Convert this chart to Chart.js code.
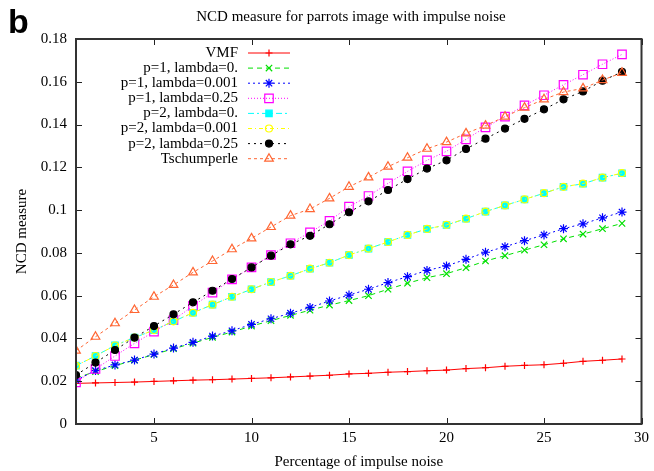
<!DOCTYPE html>
<html>
<head>
<meta charset="utf-8">
<script src="https://cdn.jsdelivr.net/npm/chart.js@4/dist/chart.umd.min.js"></script>
<style>
  html, body { margin: 0; padding: 0; background: #fff; }
  canvas { display: block; }
</style>
</head>
<body>
<canvas id="chartNcd" width="654" height="471"></canvas>
<script>
// percentage of impulse noise
const noiseLevels = [1, 2, 3, 4, 5, 6, 7, 8, 9, 10, 11, 12, 13, 14, 15, 16, 17, 18, 19, 20, 21, 22, 23, 24, 25, 26, 27, 28, 29];

const vmf = [0.0190, 0.0192, 0.0194, 0.0196, 0.0199, 0.0202, 0.0205, 0.0207, 0.0210, 0.0213, 0.0216, 0.0220, 0.0224, 0.0228, 0.0234,
  0.0237, 0.0242, 0.0245, 0.0249, 0.0252, 0.0259, 0.0263, 0.0270, 0.0274, 0.0277, 0.0284, 0.0293, 0.0298, 0.0304];
const p1Lambda0 = [0.0215, 0.0245, 0.0273, 0.0298, 0.0325, 0.0352, 0.0378, 0.0405, 0.0430, 0.0458, 0.0483, 0.0508, 0.0532, 0.0556, 0.0577,
  0.0600, 0.0630, 0.0658, 0.0684, 0.0703, 0.0731, 0.0762, 0.0787, 0.0813, 0.0838, 0.0866, 0.0888, 0.0913, 0.0938];
const p1Lambda001 = [0.0205, 0.0250, 0.0276, 0.0299, 0.0327, 0.0355, 0.0382, 0.0411, 0.0436, 0.0466, 0.0492, 0.0518, 0.0545, 0.0575, 0.0603,
  0.0630, 0.0661, 0.0689, 0.0718, 0.0739, 0.0770, 0.0803, 0.0829, 0.0857, 0.0884, 0.0913, 0.0936, 0.0964, 0.0991];
const p1Lambda025 = [0.0195, 0.0257, 0.0318, 0.0377, 0.0432, 0.0486, 0.0552, 0.0614, 0.0676, 0.0732, 0.0790, 0.0845, 0.0896, 0.0950, 0.1016,
  0.1066, 0.1125, 0.1181, 0.1233, 0.1275, 0.1331, 0.1387, 0.1437, 0.1490, 0.1537, 0.1586, 0.1633, 0.1682, 0.1728];
const p2Lambda0 = [0.0273, 0.0318, 0.0368, 0.0404, 0.0439, 0.0480, 0.0520, 0.0558, 0.0595, 0.0630, 0.0664, 0.0693, 0.0726, 0.0754, 0.0790,
  0.0820, 0.0851, 0.0884, 0.0912, 0.0930, 0.0960, 0.0993, 0.1022, 0.1050, 0.1079, 0.1109, 0.1123, 0.1152, 0.1172];
const p2Lambda001 = [0.0272, 0.0318, 0.0367, 0.0404, 0.0439, 0.0480, 0.0520, 0.0558, 0.0595, 0.0630, 0.0664, 0.0693, 0.0726, 0.0754, 0.0790,
  0.0820, 0.0851, 0.0884, 0.0912, 0.0931, 0.0960, 0.0993, 0.1022, 0.1050, 0.1079, 0.1109, 0.1124, 0.1152, 0.1173];
const p2Lambda025 = [0.0229, 0.0287, 0.0346, 0.0404, 0.0458, 0.0513, 0.0569, 0.0623, 0.0678, 0.0732, 0.0787, 0.0840, 0.0880, 0.0934, 0.0990,
  0.1041, 0.1094, 0.1145, 0.1194, 0.1233, 0.1286, 0.1334, 0.1381, 0.1427, 0.1471, 0.1518, 0.1555, 0.1605, 0.1646];
const tschumperle = [0.0343, 0.0408, 0.0471, 0.0533, 0.0595, 0.0650, 0.0709, 0.0762, 0.0817, 0.0868, 0.0921, 0.0974, 0.1005, 0.1055, 0.1109,
  0.1153, 0.1203, 0.1245, 0.1287, 0.1318, 0.1359, 0.1395, 0.1437, 0.1479, 0.1518, 0.1552, 0.1569, 0.1608, 0.1642];

const xTicks = [5, 10, 15, 20, 25, 30];
const yTicks = [0, 0.02, 0.04, 0.06, 0.08, 0.1, 0.12, 0.14, 0.16, 0.18];

const serif = '"Liberation Serif", "DejaVu Serif", serif';

// nét vẽ kiểu gnuplot
const series = [
  { label: 'VMF', values: vmf, color: '#ff0000', dash: [], style: 'cross', radius: 3.5, fill: false },
  { label: 'p=1, lambda=0.', values: p1Lambda0, color: '#00e000', dash: [5, 4], style: 'crossRot', radius: 4.5, fill: false },
  { label: 'p=1, lambda=0.001', values: p1Lambda001, color: '#0000ff', dash: [2, 3], style: 'star', radius: 4.5, fill: false },
  { label: 'p=1, lambda=0.25', values: p1Lambda025, color: '#ff00ff', dash: [1, 2], style: 'rect', radius: 6, fill: false },
  { label: 'p=2, lambda=0.', values: p2Lambda0, color: '#00ffff', dash: [6, 3, 2, 3], style: 'rect', radius: 4.5, fill: true },
  { label: 'p=2, lambda=0.001', values: p2Lambda001, color: '#ffff00', dash: [4, 3, 1, 3], style: 'circle', radius: 3.5, fill: false },
  { label: 'p=2, lambda=0.25', values: p2Lambda025, color: '#000000', dash: [2, 4], style: 'circle', radius: 3.5, fill: true },
  { label: 'Tschumperle', values: tschumperle, color: '#ff6633', dash: [3, 3], style: 'triangle', radius: 5, fill: false }
];

const datasets = series.map((s, i) => ({
  label: s.label,
  data: noiseLevels.map((x, j) => ({ x: x, y: s.values[j] })),
  borderColor: s.color,
  borderWidth: 1,
  borderDash: s.dash,
  pointStyle: s.style,
  pointRadius: s.radius,
  pointBorderColor: s.color,
  pointBackgroundColor: s.fill ? s.color : 'rgba(0,0,0,0)',
  pointBorderWidth: 1.2,
  fill: false,
  tension: 0,
  order: 10 - i
}));

const framePlugin = {
  id: 'frame',
  afterDraw(chart) {
    const ctx = chart.ctx;
    const a = chart.chartArea;
    const xs = chart.scales.x;
    const ys = chart.scales.y;
    ctx.save();
    // ticks inward on all four sides
    ctx.strokeStyle = '#222';
    ctx.lineWidth = 1;
    ctx.setLineDash([]);
    ctx.beginPath();
    xTicks.forEach(v => {
      const px = Math.round(xs.getPixelForValue(v)) + 0.5;
      ctx.moveTo(px, a.bottom); ctx.lineTo(px, a.bottom - 6);
      ctx.moveTo(px, a.top); ctx.lineTo(px, a.top + 6);
    });
    yTicks.forEach(v => {
      const py = Math.round(ys.getPixelForValue(v)) + 0.5;
      ctx.moveTo(a.left, py); ctx.lineTo(a.left + 6, py);
      ctx.moveTo(a.right, py); ctx.lineTo(a.right - 6, py);
    });
    ctx.stroke();
    ctx.lineWidth = 2;
    ctx.strokeStyle = '#333';
    ctx.strokeRect(a.left, a.top, a.right - a.left, a.bottom - a.top);

    // legend, text right aligned with sample line on the right
    ctx.font = '15px ' + serif;
    ctx.textAlign = 'right';
    ctx.textBaseline = 'middle';
    chart.data.datasets.forEach((ds, i) => {
      const y = a.top + 14 + i * 15.1;
      ctx.fillStyle = '#000';
      ctx.fillText(ds.label, a.left + 162, y);
      ctx.strokeStyle = ds.borderColor;
      ctx.lineWidth = 1;
      ctx.setLineDash(ds.borderDash);
      ctx.beginPath();
      ctx.moveTo(a.left + 172, y);
      ctx.lineTo(a.left + 214, y);
      ctx.stroke();
      ctx.setLineDash([]);
      ctx.fillStyle = ds.pointBackgroundColor;
      ctx.strokeStyle = ds.pointBorderColor;
      ctx.lineWidth = ds.pointBorderWidth;
      Chart.helpers.drawPoint(ctx, {
        pointStyle: ds.pointStyle, rotation: 0, radius: ds.pointRadius, borderWidth: ds.pointBorderWidth
      }, a.left + 193, y);
    });

    // title and panel letter
    ctx.fillStyle = '#000';
    ctx.textAlign = 'center';
    ctx.font = '15px ' + serif;
    ctx.fillText('NCD measure for parrots image with impulse noise', 351, 17);
    ctx.textAlign = 'left';
    ctx.textBaseline = 'alphabetic';
    ctx.font = 'bold 34px "Liberation Sans", Arial, sans-serif';
    ctx.fillText('b', 8, 33);
    ctx.restore();
  }
};

new Chart(document.getElementById('chartNcd').getContext('2d'), {
  type: 'line',
  data: { datasets: datasets },
  options: {
    responsive: false,
    animation: false,
    layout: { padding: { top: 39, right: 11, left: 0, bottom: 0 } },
    plugins: {
      legend: { display: false },
      title: { display: false },
      tooltip: { enabled: false }
    },
    scales: {
      x: {
        type: 'linear',
        min: 1,
        max: 30,
        afterFit(scale) { scale.height = 47; },
        afterBuildTicks(scale) { scale.ticks = xTicks.map(v => ({ value: v })); },
        grid: { display: false, drawTicks: false },
        border: { display: false },
        ticks: { color: '#000', padding: 5, font: { family: serif, size: 15 }, maxRotation: 0 },
        title: { display: true, text: 'Percentage of impulse noise', color: '#000', padding: { top: 0, bottom: 0 }, font: { family: serif, size: 15 } }
      },
      y: {
        min: 0,
        max: 0.18,
        afterFit(scale) { scale.width = 76; },
        afterBuildTicks(scale) { scale.ticks = yTicks.map(v => ({ value: v })); },
        grid: { display: false, drawTicks: false },
        border: { display: false },
        ticks: {
          color: '#000', padding: 9, font: { family: serif, size: 15 },
          callback: v => v === 0 ? '0' : String(+v.toFixed(2))
        },
        title: { display: true, text: 'NCD measure', color: '#000', padding: { top: 13, bottom: 0 }, font: { family: serif, size: 15 } }
      }
    }
  },
  plugins: [framePlugin]
});
</script>
</body>
</html>
